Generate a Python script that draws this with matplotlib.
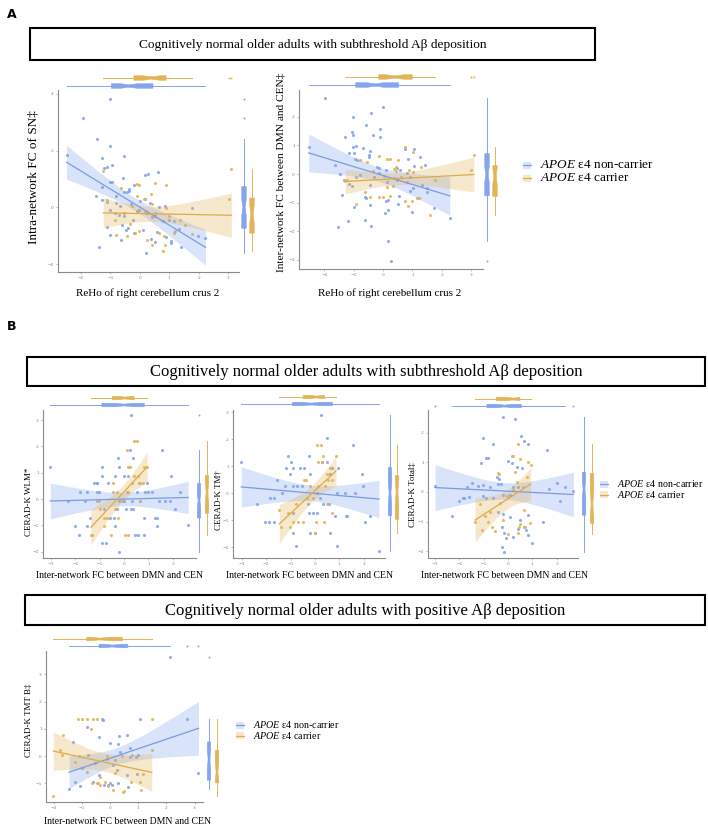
import matplotlib
matplotlib.use("Agg")
import matplotlib.pyplot as plt
from matplotlib.patches import Rectangle
from matplotlib.lines import Line2D
import numpy as np

plt.rcParams["mathtext.fontset"] = "custom"
plt.rcParams["mathtext.it"] = "Liberation Serif:italic"
plt.rcParams["mathtext.rm"] = "Liberation Serif"

# ── Data ─────────────────────────────────────────────────────────────────────
# Panel A, left: ReHo right cerebellum crus 2 vs intra-network FC of SN
a1_blue_x = [-1.00, -1.92, -1.45, -1.02, -2.49, -1.28, -0.54, -0.96, -1.13, -1.22, 0.17, 0.28, 0.63,
             -0.58, -1.00, -0.95, -0.20, -1.28, -0.37, -0.53, -0.43, -0.36, -0.81, -1.50, -1.30, -1.10,
             -0.82, -0.66, -0.30, 0.02, 0.16, 0.36, 0.66, 0.84, -0.03, -1.00, -0.83, -0.70, -0.54, -0.24,
             -0.09, 0.25, 0.42, 0.53, 0.79, 1.00, 1.16, 1.32, 1.78, -1.13, -0.59, -0.48, -0.41, -0.19,
             0.10, 0.59, -1.00, -0.63, -1.38, 0.21, 0.89, 1.07, 1.41, 1.98, 1.06, 0.53, 0.38, 2.23]
a1_blue_y = [3.84, 3.15, 2.42, 2.18, 1.84, 1.75, 1.80, 1.48, 1.42, 1.39, 1.13, 1.19, 1.24,
             1.04, 0.89, 0.89, 0.80, 0.71, 0.66, 0.54, 0.54, 0.56, 0.41, 0.39, 0.25, 0.19,
             0.15, 0.04, 0.13, 0.24, 0.29, 0.15, 0.01, 0.04, -0.08, -0.11, -0.20, -0.26, -0.32, -0.44,
             -0.14, -0.20, -0.34, -0.29, -0.47, -0.44, -0.49, -0.76, -0.02, -0.71, -0.61, -0.79, -0.73, -0.91,
             -0.79, -0.87, -0.99, -1.16, -1.40, -1.61, -1.05, -1.20, -1.40, -1.00, -1.26, -1.22, -1.10, -1.08]
a1_orng_x = [-1.24, -0.10, -0.03, 0.53, 0.89, -0.64, 0.38, -0.09, 0.14, 0.43, 0.90, 1.38, 1.53, 1.79,
             -0.81, -0.43, -0.18, 0.25, 0.42, 0.78, 3.02, 3.11, 0.66, 0.81, 0.87, 1.15, -1.11, -0.54,
             -0.26, 0.16, 0.50, 0.98, 1.20, -0.03, -0.83, -0.35]
a1_orng_y = [1.27, 0.82, 0.80, 0.85, 0.79, 0.67, 0.48, 0.39, 0.29, 0.13, -0.01, -0.44, -0.62, -0.93,
             -0.96, -1.02, -0.91, -1.14, -1.32, -1.55, 0.31, 1.36, -0.91, -1.02, -1.32, -0.91, 0.27, -0.20,
             0.04, -0.15, -0.20, -0.29, -0.85, -0.82, -0.44, -0.60]

# Panel A, right: ReHo right cerebellum crus 2 vs inter-network FC DMN-CEN
a2_blue_x = [-1.97, 0.00, -0.41, -1.31, -1.02, -0.57, -0.09, -1.05, -1.03, -0.34, -0.09, -2.53, -0.91,
             -1.02, -0.68, -1.63, -0.45, 0.73, 1.05, -1.17, -1.00, -0.47, -1.48, -0.47, -0.94, -0.89,
             0.86, -1.34, 0.48, -0.20, -0.14, 0.11, 1.27, 1.05, -0.77, -0.91, -1.17, -1.06, -0.43, 0.14,
             0.36, 0.48, 0.82, 0.93, 1.44, 1.32, 1.49, 1.49, -1.40, -0.57, -0.63, -1.00, -0.43, 0.11,
             0.17, 0.53, 0.52, 0.93, 1.02, 0.99, -1.19, -1.55, -0.41, -0.63, 0.08, 0.17, 0.28, 1.73,
             2.27, -0.15, -0.32, 0.82, 0.59, 0.16]
a2_blue_y = [2.66, 2.33, 2.12, 1.30, 1.98, 1.70, 1.59, 1.48, 1.36, 1.36, 1.30, 0.95, 0.98,
             0.93, 0.90, 0.30, 0.81, 0.86, 0.86, 0.72, 0.72, 0.66, 0.00, 0.58, 0.51, 0.49,
             0.51, -0.20, 0.20, 0.23, 0.20, 0.14, 0.60, 0.28, -0.03, -0.09, -0.36, -0.42, -0.38, -0.27,
             -0.15, -0.21, -0.27, -0.12, 0.30, -0.38, -0.62, -0.48, -0.73, -0.85, -0.79, -1.14, -1.08, -0.93,
             -0.91, -0.77, -1.05, -0.60, -0.50, -1.34, -1.64, -1.84, -1.80, -1.60, -1.35, -2.33, -3.03, -1.20,
             -1.52, 0.02, -0.09, 0.02, 0.14, -1.26]
a2_orng_x = [-0.15, 0.13, 0.25, 0.76, 1.02, 0.45, 0.36, 0.44, 0.88, 1.01, 1.76, 3.00, 3.09, 1.58,
             -0.91, -0.43, 0.34, 0.25, 0.75, 0.84, 1.16, 1.22, 0.99, -0.15, -0.01, 0.14, -1.23, -1.29,
             -0.77, -0.55, 0.02, 0.62, -0.62, 1.30, -0.33, 0.51]
a2_orng_y = [0.63, 0.53, 0.51, 0.93, 0.78, 0.26, 0.19, 0.12, 0.14, 0.08, -0.20, 0.14, 0.66, -1.43,
             -1.05, -0.79, -0.40, -0.78, -0.94, -1.10, -0.85, -0.83, -0.93, -0.79, -0.79, -0.44, -0.20, -0.25,
             0.49, 0.42, -0.06, -0.10, -0.63, 0.26, 0.10, 0.50]

# Panel B (subthreshold): inter-network FC DMN-CEN vs CERAD-K WLM
b1_blue_x = [-3.02, -2.30, -2.00, -1.84, -1.80, -1.59, -1.50, -1.53, -1.32, -1.12, -0.91, -1.12, -1.01,
             -0.91, -1.12, -0.84, -0.91, -0.74, -0.64, -0.37, -0.41, -0.30, -0.23, -0.20, -0.19, 0.00,
             0.18, 0.25, 0.27, 0.38, 0.08, 0.27, 0.38, 0.52, 0.63, 0.65, 0.93, 0.86, 0.83, 0.83, 0.99,
             1.27, 1.34, 1.44, 1.34, 1.57, 1.70, 1.91, 1.88, 2.08, 2.29, 2.63, 0.45, 0.59, -1.39, -0.57,
             0.11, 0.00, -0.19, 1.13, -0.37, 0.31, -1.25]
b1_blue_y = [1.23, -0.06, -1.04, -1.36, 0.25, -0.06, 0.25, -1.04, -1.36, 0.59, 1.23, 0.25, 0.25,
             0.89, 0.59, -0.39, -1.68, -1.68, 0.59, 0.89, -0.72, -0.39, 1.56, 1.23, -2.00, 0.89,
             0.89, 1.88, 3.19, 1.56, -0.39, -0.39, -0.39, 0.25, 0.59, -0.06, 0.59, 0.25, -0.72, -1.36, 0.25,
             -0.72, -1.04, -0.06, -0.72, 1.88, -0.06, 0.89, -0.06, -0.39, 0.25, -1.00, -1.36, -1.36, -0.72, -0.72,
             0.25, -0.06, -0.06, 0.25, -1.04, -0.06, 0.59]
b1_orng_x = [-1.36, -1.01, -0.84, -0.84, -0.71, -0.44, -0.37, -0.52, -0.23, -0.27, -0.10, 0.11, 0.18,
             0.25, 0.31, 0.42, 0.52, 0.41, 0.59, 0.65, 0.79, 0.83, 0.95, 0.18, 0.04, 0.18, -0.03, -1.12,
             -0.98, -0.44, 0.65]
b1_orng_y = [-1.36, -0.06, -0.72, -1.04, -0.72, 0.59, -0.39, -1.36, -0.72, 0.25, -0.06, 1.88, 1.23,
             1.23, 0.59, 2.20, 2.20, 0.89, 0.89, 0.59, 0.59, 1.23, 1.23, -1.36, -1.36, 0.25, -0.06, -0.06,
             -0.39, 0.25, -0.06]

# Panel B (subthreshold): inter-network FC DMN-CEN vs CERAD-K TM
b2_blue_x = [-3.02, -2.36, -2.04, -1.87, -1.66, -1.57, -1.84, -1.66, -1.09, -0.98, -1.19, -0.89, -1.02,
             -1.23, -0.89, -0.75, -1.36, -0.89, -0.91, -0.78, -0.61, -0.45, -0.25, -0.20, -0.27, -0.23,
             -0.10, 0.10, -0.20, 0.00, 0.23, 0.48, 0.27, 0.48, 0.68, 0.95, 0.61, 0.89, 1.23, 1.63, 0.34,
             0.59, 0.82, 0.61, 0.89, 1.29, 1.32, 1.54, 1.91, 1.95, 2.04, 2.25, 2.62, -0.54, 0.10, 0.20]
b2_blue_y = [1.15, -0.40, -1.05, -1.05, -1.05, 0.47, -0.19, -0.19, 1.36, 1.15, 0.95, 0.95, 0.72,
             0.27, 0.27, 0.27, 0.00, -0.72, -1.48, -1.94, 0.95, 0.95, 1.36, 0.72, -0.40, -0.72,
             -0.72, -0.72, -1.48, -1.48, 2.90, 2.04, 1.15, 1.15, 0.95, 0.95, 0.72, 0.00, 0.00, 0.00, -0.40,
             -0.40, -0.84, -1.48, -1.94, -0.84, -0.84, 1.79, 0.72, 0.27, -1.05, -0.84, -2.14, 0.27, 0.00, -0.19]
b2_orng_x = [-1.46, -1.39, -0.89, -0.68, -0.50, -1.02, -0.45, -0.37, -0.20, -0.31, -0.07, 0.04, 0.37,
             0.00, 0.10, 0.25, 0.34, 0.14, 0.27, 0.61, 0.48, 0.68, 0.54, 0.41, 0.86, 0.48, 0.68, 0.14,
             -0.78, -1.09]
b2_orng_y = [-0.62, -1.26, -1.05, -1.05, -1.05, -1.26, 0.47, 0.47, 0.27, -0.19, -0.19, -1.05, -1.05,
             -1.48, 1.79, 1.79, 1.36, 1.15, 1.15, 0.95, 0.72, 0.47, 0.47, 0.27, 1.36, -0.40, -0.72, 0.27,
             -0.40, -0.72]

# Panel B (subthreshold): inter-network FC DMN-CEN vs CERAD-K Total
b3_blue_x = [-0.22, 0.29, -1.04, -0.60, 0.53, 0.67, 0.81, 1.58, -0.90, -0.83, -1.49, -1.11, 0.01, 0.15,
             0.36, 0.56, -0.46, -0.36, -1.22, -1.01, -0.74, -0.43, -0.29, 1.99, 2.34, 0.22, 0.42, -0.19,
             0.08, -0.63, -1.01, -0.90, 1.69, 2.13, 2.68, -0.42, -0.19, 0.08, 0.49, 0.83, 0.67, 0.74,
             0.83, 0.42, 0.22, -0.15, -0.08, -0.23, -0.15, 0.97, 1.42, -0.26, -2.99, -2.31, -2.02, -1.83,
             -1.79, -1.60, -1.69]
b3_blue_y = [2.55, 2.45, 1.84, 1.62, 1.89, 1.72, 1.61, 1.42, 1.14, 1.14, 0.30, 0.99, 1.05, 0.99,
             0.86, 0.82, 0.52, 0.43, 0.20, 0.24, 0.18, 0.27, 0.27, 0.29, 0.18, 0.18, 0.18, -0.10,
             -0.10, -0.21, -0.15, -0.21, 0.10, -0.30, 0.05, -0.66, -0.74, -0.83, -0.94, -0.77, -1.17, -1.28,
             -1.45, -1.26, -1.51, -1.40, -1.57, -1.85, -2.04, -1.73, -1.00, -1.17, 0.21, -0.80, -0.30, -0.20,
             -0.19, -0.16, 0.18]
b3_orng_x = [-1.35, -1.08, -0.94, -0.81, -0.67, -0.53, -0.42, -0.36, -0.33, -0.05, 0.15, 0.22, 0.42,
             0.83, 0.93, 0.49, 0.29, 0.36, 0.77, 0.22, 0.60, 0.67, 0.49, 0.46, 0.70, 0.40, 0.90, 0.01,
             -1.15, -0.74, -0.22]
b3_orng_y = [-1.00, -1.30, -0.80, -1.00, -1.17, -1.31, 0.65, 0.60, -0.38, -0.14, 1.22, 1.22, 1.61,
             1.00, 0.90, 1.10, 0.69, 0.35, 0.52, 0.07, 0.18, -0.61, -1.08, -1.19, -1.17, -1.40, -1.04, -1.42,
             -0.42, -0.66, -0.95]

# Panel B (positive): inter-network FC DMN-CEN vs CERAD-K TMT B
b4_blue_x = [2.13, 2.72, 3.14, 1.06, -0.30, -0.24, -0.83, -0.39, 0.33, 0.59, 0.00, 0.27, 0.71, -1.30,
             -1.45, -1.24, -1.06, -0.59, -0.38, -0.20, -0.06, 0.00, 0.07, 0.30, 0.65, 0.59, 0.95, 0.12,
             0.24, -1.00, -0.53, -0.12, 0.18, 0.71, 1.00, 0.35, -0.77, 0.94]
b4_blue_y = [3.64, 1.36, -0.63, 1.36, 1.36, 1.32, 1.05, 0.71, 0.73, 0.76, 0.49, 0.44, 0.28, 0.53,
             -1.21, -0.94, -1.09, -0.96, -0.70, -1.06, -1.04, -1.00, -1.07, -1.00, -1.12, -0.70, -0.66, -0.33,
             -0.51, -0.45, -0.27, -0.09, -0.15, -0.02, 0.04, 0.16, 0.04, -0.02]
b4_orng_x = [-1.12, -1.00, -0.83, -0.59, -0.47, 1.48, -0.69, -1.65, -1.71, -1.77, -2.01, -0.65, -0.47,
             -0.41, -0.35, -0.18, -0.06, 0.12, 0.45, 0.51, 0.74, 1.06, 1.11, 1.18, -0.35, -0.83, -1.24,
             -1.09, -0.12, 0.41, 0.77, 0.18, 1.48]
b4_orng_y = [1.36, 1.36, 1.36, 1.36, 1.36, 1.36, 1.01, 0.79, 0.04, 0.22, -1.47, -0.98, -0.98,
             -1.00, -1.06, -0.94, -1.10, -1.25, -1.31, -1.29, -0.94, -0.95, -1.25, -0.67, -0.76, -0.57, -0.21,
             0.00, 0.00, 0.00, 0.04, -0.63, 0.22]

legend_labels = [r"$\mathit{APOE}$ ε4 non-carrier", r"$\mathit{APOE}$ ε4 carrier"]
title_sub = "Cognitively normal older adults with subthreshold Aβ deposition"
title_pos = "Cognitively normal older adults with positive Aβ deposition"
xlab_reho = "ReHo of right cerebellum crus 2"
xlab_fc = "Inter-network FC between DMN and CEN"

# ── Style ────────────────────────────────────────────────────────────────────
W, H = 708, 827
BLUE = "#84a4ec"
ORANGE = "#e3b457"
BLUE_LINE = "#7b9be6"
ORANGE_LINE = "#ddab48"
SERIF = "Liberation Serif"
AXCOL = "#8a8a8a"

fig = plt.figure(figsize=(W / 100, H / 100), dpi=100)
fig.patch.set_facecolor("white")


def px_axes(x0, y0, x1, y1):
    return fig.add_axes([x0 / W, 1 - y1 / H, (x1 - x0) / W, (y1 - y0) / H])


def ftext(x, y, s, **kw):
    return fig.text(x / W, 1 - y / H, s, **kw)


def ols_band(x, y):
    x = np.asarray(x, float)
    y = np.asarray(y, float)
    slope, icpt = np.polyfit(x, y, 1)
    xs = np.linspace(x.min(), x.max(), 100)
    fit = icpt + slope * xs
    resid = y - (icpt + slope * x)
    s = np.sqrt(np.sum(resid ** 2) / (len(x) - 2))
    sxx = np.sum((x - x.mean()) ** 2)
    se = s * np.sqrt(1 / len(x) + (xs - x.mean()) ** 2 / sxx)
    return xs, fit, 2.0 * se


def marg_box(ax, vals, pos, width, color, horizontal):
    return ax.boxplot([vals], positions=[pos], widths=width, notch=True, patch_artist=True,
                      orientation="horizontal" if horizontal else "vertical",
                      showcaps=False, manage_ticks=False,
                      boxprops=dict(facecolor=color, edgecolor=color, linewidth=0.4),
                      whiskerprops=dict(color=color, linewidth=0.7),
                      medianprops=dict(color=color, linewidth=0.6),
                      flierprops=dict(marker="o", markersize=1.4, markerfacecolor=color,
                                      markeredgecolor="none"))


def panel(box, xlim, ylim, xticks, yticks, groups, top_pos, right_pos, bw):
    x0, y0, x1, y1 = box
    ax = px_axes(x0, y0, x1, y1)
    for gx, gy, col, lcol in groups:
        ax.scatter(gx, gy, s=5, color=col, alpha=0.9, linewidths=0, zorder=2)
    for gx, gy, col, lcol in groups:
        xs, fit, half = ols_band(gx, gy)
        ax.fill_between(xs, fit - half, fit + half, color=col, alpha=0.3, linewidth=0, zorder=3)
        ax.plot(xs, fit, color=lcol, linewidth=0.9, zorder=4)
    ax.set_xlim(*xlim)
    ax.set_ylim(*ylim)
    ax.set_xticks(xticks)
    ax.set_yticks(yticks)
    ax.tick_params(labelsize=3.2, colors=AXCOL, length=1.5, width=0.4, pad=1.5)
    for sp in ("top", "right"):
        ax.spines[sp].set_visible(False)
    for sp in ("left", "bottom"):
        ax.spines[sp].set_color(AXCOL)
        ax.spines[sp].set_linewidth(0.8)

    # marginal boxplots: top (x distribution) and right (y distribution)
    axt = px_axes(x0, y0 - 24, x1, y0)
    axt.set_xlim(*xlim)
    axt.set_ylim(y0, y0 - 24)
    axt.axis("off")
    axr = px_axes(x1, y0, x1 + 24, y1)
    axr.set_ylim(*ylim)
    axr.set_xlim(x1, x1 + 24)
    axr.axis("off")
    for (gx, gy, col, lcol), tp, rp in zip(groups, top_pos, right_pos):
        marg_box(axt, gx, tp, bw, col, True)
        marg_box(axr, gy, rp, bw, col, False)
    return ax


def title_box(x0, y0, x1, y1, text, fs):
    fig.patches.append(Rectangle((x0 / W, 1 - y1 / H), (x1 - x0) / W, (y1 - y0) / H,
                                 transform=fig.transFigure, fill=False, edgecolor="black",
                                 linewidth=1.5))
    ftext((x0 + x1) / 2, (y0 + y1) / 2 + 1, text, ha="center", va="center",
          fontsize=fs, family=SERIF)


def legend(x, y, dy, fs):
    for i, (col, lcol, lab) in enumerate([(BLUE, BLUE_LINE, legend_labels[0]),
                                           (ORANGE, ORANGE_LINE, legend_labels[1])]):
        yy = y + i * dy
        fig.patches.append(Rectangle(((x - 4) / W, 1 - (yy + 3.5) / H), 8 / W, 7 / H,
                                     transform=fig.transFigure, facecolor=col, alpha=0.3,
                                     edgecolor="none"))
        fig.lines.append(Line2D([(x - 4) / W, (x + 4) / W], [1 - yy / H, 1 - yy / H],
                                transform=fig.transFigure, color=lcol, linewidth=0.9))
        ftext(x + 13, yy, lab, ha="left", va="center", fontsize=fs, family=SERIF)


grp = lambda bx, by, ox, oy: [(bx, by, BLUE, BLUE_LINE), (ox, oy, ORANGE, ORANGE_LINE)]

# ── Panel A ──────────────────────────────────────────────────────────────────
ftext(12, 14, "A", fontsize=9, fontweight="bold", ha="center", va="center")
title_box(30, 28, 595, 60, title_sub, 9.6)

panel((58, 90, 239, 272), (-2.78, 3.37), (-2.28, 4.14), range(-2, 4), [-2, 0, 2, 4],
      grp(a1_blue_x, a1_blue_y, a1_orng_x, a1_orng_y), [86, 78], [244, 252], 4.5)
ftext(148, 293, xlab_reho, ha="center", va="center", fontsize=8, family=SERIF)
ftext(34, 177, "Intra-network FC of SN‡", ha="center", va="center", rotation=90,
      fontsize=9.5, family=SERIF)

panel((299, 90, 483, 269), (-2.86, 3.40), (-3.32, 2.94), range(-2, 4), range(-3, 3),
      grp(a2_blue_x, a2_blue_y, a2_orng_x, a2_orng_y), [85, 77], [487, 495], 4.5)
ftext(390, 293, xlab_reho, ha="center", va="center", fontsize=8, family=SERIF)
ftext(281, 172, "Inter-network FC between DMN and CEN‡", ha="center", va="center",
      rotation=90, fontsize=8.2, family=SERIF)
legend(527, 165, 13, 9.5)

# ── Panel B ──────────────────────────────────────────────────────────────────
ftext(12, 326, "B", fontsize=9, fontweight="bold", ha="center", va="center")
title_box(27, 357, 705, 386, title_sub, 12)

panel((43, 410, 196, 558), (-3.32, 2.95), (-2.24, 3.38), range(-3, 3), range(-2, 4),
      grp(b1_blue_x, b1_blue_y, b1_orng_x, b1_orng_y), [405, 398], [199, 207], 3.5)
ftext(120, 575, xlab_fc, ha="center", va="center", fontsize=7, family=SERIF)
ftext(29, 502, "CERAD-K WLM*", ha="center", va="center", rotation=90, fontsize=6.5,
      family=SERIF)

panel((233, 410, 385, 558), (-3.36, 2.87), (-2.40, 3.08), range(-3, 3), range(-2, 4),
      grp(b2_blue_x, b2_blue_y, b2_orng_x, b2_orng_y), [404, 397], [390, 397], 3.5)
ftext(310, 575, xlab_fc, ha="center", va="center", fontsize=7, family=SERIF)
ftext(219, 500, "CERAD-K TM†", ha="center", va="center", rotation=90, fontsize=6.5,
      family=SERIF)

panel((428, 410, 578, 558), (-3.28, 2.87), (-2.23, 2.77), range(-3, 3), range(-2, 3),
      grp(b3_blue_x, b3_blue_y, b3_orng_x, b3_orng_y), [406, 399], [584, 592], 3.5)
ftext(505, 575, xlab_fc, ha="center", va="center", fontsize=7, family=SERIF)
ftext(413, 495, "CERAD-K Total‡", ha="center", va="center", rotation=90, fontsize=6.5,
      family=SERIF)
legend(604, 484, 10.5, 7.2)

title_box(25, 595, 705, 625, title_pos, 12)
panel((46, 651, 203, 802), (-2.27, 3.30), (-1.68, 3.85), range(-2, 4), range(-1, 4),
      grp(b4_blue_x, b4_blue_y, b4_orng_x, b4_orng_y), [646, 639], [209, 217], 3.5)
ftext(127, 821, xlab_fc, ha="center", va="center", fontsize=7, family=SERIF)
ftext(29, 720, "CERAD-K TMT B‡", ha="center", va="center", rotation=90, fontsize=6.5,
      family=SERIF)
legend(240, 725, 10.5, 7.2)

fig.savefig("out.png", dpi=100, facecolor="white")
